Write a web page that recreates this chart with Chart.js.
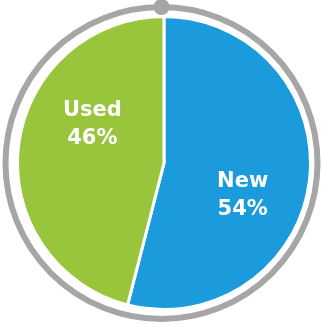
<!DOCTYPE html>
<html>
<head>
<meta charset="utf-8">
<script src="https://cdn.jsdelivr.net/npm/chart.js@4"></script>
<style>
  html, body { margin: 0; padding: 0; background: #ffffff; }
  #wrap { width: 321px; height: 324px; }
</style>
</head>
<body>
<div id="wrap"><canvas id="c" width="321" height="324"></canvas></div>
<script>
// Share of vehicles by condition
const categories = ["New", "Used"];
const shares = [54, 46];
const sliceColors = ["#1b9bdb", "#98c53c"];
// label placement per slice: angular nudge (degrees) from the slice's middle,
// and distance from the centre as a fraction of the radius
const labelAngleShift = [15, 21];
const labelRadius = [0.58, 0.555];

// grey frame ring with a knob at twelve o'clock
const framePlugin = {
  id: "frame",
  afterDraw(chart) {
    const arc = chart.getDatasetMeta(0).data[0];
    if (!arc) return;
    const ctx = chart.ctx;
    const cx = arc.x - 2.5, cy = arc.y;
    const r = arc.outerRadius + 9.5;
    ctx.save();
    ctx.strokeStyle = "#a6a6a6";
    ctx.lineWidth = 6;
    ctx.beginPath();
    ctx.arc(cx, cy, r, 0, Math.PI * 2);
    ctx.stroke();
    ctx.fillStyle = "#a6a6a6";
    ctx.beginPath();
    ctx.arc(cx, cy - r, 8, 0, Math.PI * 2);
    ctx.fill();
    ctx.restore();
  }
};

// two-line slice labels: category name and percentage
const sliceLabels = {
  id: "sliceLabels",
  afterDatasetsDraw(chart) {
    const meta = chart.getDatasetMeta(0);
    const ctx = chart.ctx;
    ctx.save();
    ctx.fillStyle = "#ffffff";
    ctx.font = "bold 21px 'DejaVu Sans', Verdana, sans-serif";
    ctx.textAlign = "center";
    ctx.textBaseline = "middle";
    meta.data.forEach((arc, i) => {
      const mid = (arc.startAngle + arc.endAngle) / 2 + labelAngleShift[i] * Math.PI / 180;
      const d = arc.outerRadius * labelRadius[i];
      const x = arc.x + Math.cos(mid) * d;
      const y = arc.y + Math.sin(mid) * d;
      ctx.fillText(categories[i], x, y - 14);
      ctx.fillText(shares[i] + "%", x, y + 14);
    });
    ctx.restore();
  }
};

new Chart(document.getElementById("c"), {
  type: "pie",
  data: {
    labels: categories,
    datasets: [{
      data: shares,
      backgroundColor: sliceColors,
      borderColor: "#ffffff",
      borderWidth: 3
    }]
  },
  options: {
    responsive: false,
    animation: false,
    layout: { padding: { left: 16, right: 9, top: 15, bottom: 13 } },
    plugins: {
      legend: { display: false },
      tooltip: { enabled: false }
    }
  },
  plugins: [sliceLabels, framePlugin]
});
</script>
</body>
</html>
